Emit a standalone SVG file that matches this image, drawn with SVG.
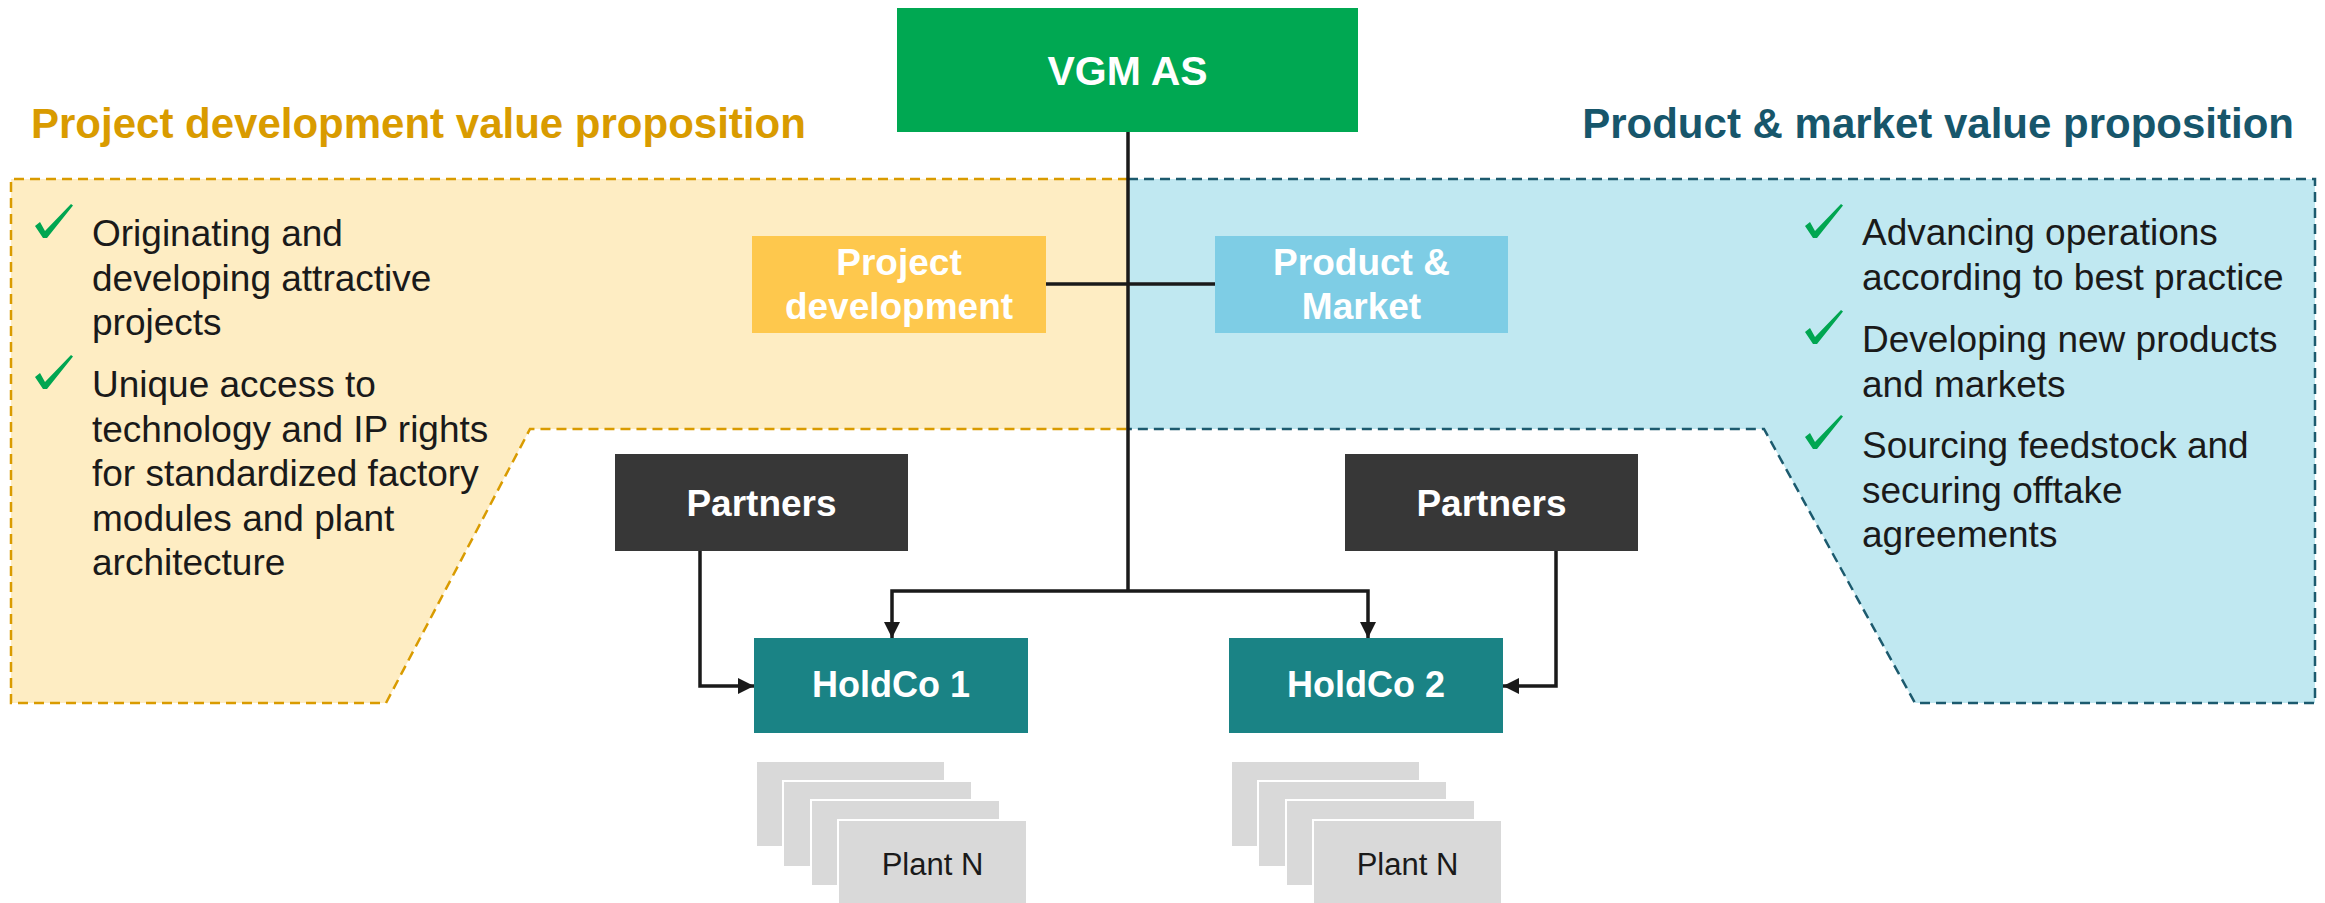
<svg xmlns="http://www.w3.org/2000/svg" width="2325" height="903" viewBox="0 0 2325 903">
<style>
  text { font-family: "Liberation Sans", Arial, sans-serif; }
  .title { font-size: 42px; font-weight: bold; }
  .body { font-size: 37px; fill: #1a1a1a; }
  .lbl { font-size: 37px; font-weight: bold; fill: #ffffff; text-anchor: middle; }
  .plant { fill: #d9d9d9; stroke: #ffffff; stroke-width: 2; }
  .plantTxt { font-size: 31px; fill: #1a1a1a; text-anchor: middle; }
  .conn { fill: none; stroke: #1a1a1a; stroke-width: 3.5; }
  .chk { fill: #00a651; }
</style>
<defs>
  <marker id="arr" markerUnits="userSpaceOnUse" markerWidth="16" markerHeight="16" refX="16" refY="8" orient="auto">
    <path d="M0,0 L16,8 L0,16 Z" fill="#1a1a1a"/>
  </marker>
  <path id="check" d="M0,22 L5,18 L10,27 L36,0 L38,1.5 L12,34 L8,34 Z"/>
</defs>

<g id="regions">
  <polygon points="11,179 1128,179 1128,429 530,429 386,703 11,703" fill="#feedc3"/>
  <polyline points="1128,179 11,179 11,703 386,703 530,429 1128,429" fill="none" stroke="#d99b00" stroke-width="2.5" stroke-dasharray="10 6"/>
  <polygon points="1128,179 2315,179 2315,703 1915,703 1764,429 1128,429" fill="#c0e8f1"/>
  <polyline points="1128,179 2315,179 2315,703 1915,703 1764,429 1128,429" fill="none" stroke="#1c5a6e" stroke-width="2.5" stroke-dasharray="10 6"/>
</g>

<g id="titles">
  <text class="title" x="31" y="138" fill="#d99b00">Project development value proposition</text>
  <text class="title" x="2294" y="138" fill="#17566b" text-anchor="end">Product &amp; market value proposition</text>
</g>

<g id="left-bullets">
  <use href="#check" class="chk" x="35" y="204"/>
  <use href="#check" class="chk" x="35" y="355"/>
  <text class="body" x="92" y="246">Originating and</text>
  <text class="body" x="92" y="290.5">developing attractive</text>
  <text class="body" x="92" y="335">projects</text>
  <text class="body" x="92" y="397">Unique access to</text>
  <text class="body" x="92" y="441.5">technology and IP rights</text>
  <text class="body" x="92" y="486">for standardized factory</text>
  <text class="body" x="92" y="530.5">modules and plant</text>
  <text class="body" x="92" y="575">architecture</text>
</g>

<g id="right-bullets">
  <use href="#check" class="chk" x="1805" y="204"/>
  <use href="#check" class="chk" x="1805" y="310"/>
  <use href="#check" class="chk" x="1805" y="415"/>
  <text class="body" x="1862" y="245">Advancing operations</text>
  <text class="body" x="1862" y="289.5">according to best practice</text>
  <text class="body" x="1862" y="352">Developing new products</text>
  <text class="body" x="1862" y="396.5">and markets</text>
  <text class="body" x="1862" y="458">Sourcing feedstock and</text>
  <text class="body" x="1862" y="502.5">securing offtake</text>
  <text class="body" x="1862" y="547">agreements</text>
</g>

<g id="connectors">
  <line class="conn" x1="1128" y1="132" x2="1128" y2="591"/>
  <line class="conn" x1="1046" y1="284" x2="1215" y2="284"/>
  <path class="conn" d="M1128,591 L892,591 L892,638" marker-end="url(#arr)"/>
  <path class="conn" d="M1128,591 L1368,591 L1368,638" marker-end="url(#arr)"/>
  <path class="conn" d="M700,551 L700,686 L754,686" marker-end="url(#arr)"/>
  <path class="conn" d="M1556,551 L1556,686 L1503,686" marker-end="url(#arr)"/>
</g>

<g id="vgm">
  <rect x="897" y="8" width="461" height="124" fill="#00a852"/>
  <text class="lbl" x="1127.5" y="85" style="font-size:41px">VGM AS</text>
</g>

<g id="project-development">
  <rect x="752" y="236" width="294" height="97" fill="#fec84d"/>
  <text class="lbl" x="899" y="275">Project</text>
  <text class="lbl" x="899" y="319">development</text>
</g>

<g id="product-market">
  <rect x="1215" y="236" width="293" height="97" fill="#7ecde5"/>
  <text class="lbl" x="1361.5" y="275">Product &amp;</text>
  <text class="lbl" x="1361.5" y="319">Market</text>
</g>

<g id="partners-1">
  <rect x="615" y="454" width="293" height="97" fill="#373737"/>
  <text class="lbl" x="761.5" y="516">Partners</text>
</g>

<g id="partners-2">
  <rect x="1345" y="454" width="293" height="97" fill="#373737"/>
  <text class="lbl" x="1491.5" y="516">Partners</text>
</g>

<g id="holdco-1">
  <rect x="754" y="638" width="274" height="95" fill="#1a8385"/>
  <text class="lbl" x="891" y="697" style="font-size:36px">HoldCo 1</text>
</g>

<g id="holdco-2">
  <rect x="1229" y="638" width="274" height="95" fill="#1a8385"/>
  <text class="lbl" x="1366" y="697" style="font-size:36px">HoldCo 2</text>
</g>

<g id="plants-1">
  <rect class="plant" x="756" y="761" width="189" height="86"/>
  <rect class="plant" x="783" y="781" width="189" height="86"/>
  <rect class="plant" x="811" y="800" width="189" height="86"/>
  <rect class="plant" x="838" y="820" width="189" height="90"/>
  <text class="plantTxt" x="932.5" y="875">Plant N</text>
</g>

<g id="plants-2">
  <rect class="plant" x="1231" y="761" width="189" height="86"/>
  <rect class="plant" x="1258" y="781" width="189" height="86"/>
  <rect class="plant" x="1286" y="800" width="189" height="86"/>
  <rect class="plant" x="1313" y="820" width="189" height="90"/>
  <text class="plantTxt" x="1407.5" y="875">Plant N</text>
</g>
</svg>
